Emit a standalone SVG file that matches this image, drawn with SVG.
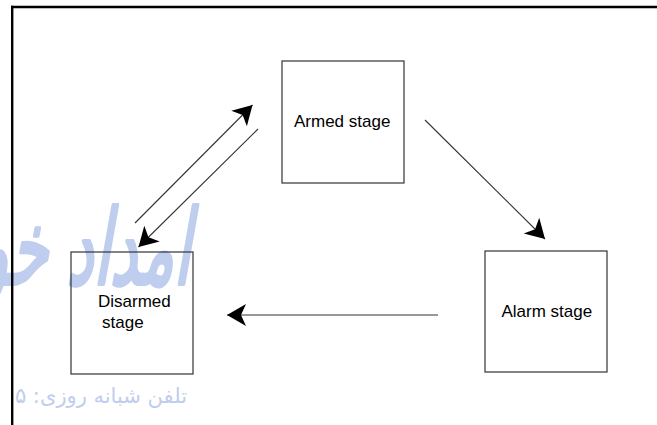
<svg xmlns="http://www.w3.org/2000/svg" width="657" height="425" viewBox="0 0 657 425">
<style>
.box{fill:none;stroke:#333;stroke-width:1.2}
.lbl{font-family:"Liberation Sans",Arial,sans-serif;font-size:17px;fill:#000}
.con{stroke:#333;stroke-width:1.1;fill:none;marker-end:url(#ah)}
.wm{font-family:"DejaVu Sans",sans-serif;fill:#bfcdee}
</style>
<defs>
<marker id="ah" markerUnits="userSpaceOnUse" viewBox="-20 -12 21 24" refX="0" refY="0" markerWidth="21" markerHeight="24" orient="auto">
<path d="M0,0 L-19,-11 L-14,0 L-19,11 Z" fill="#000"/>
</marker>
</defs>
<rect width="657" height="425" fill="#fff"/>
<g id="watermark">
<text class="wm" transform="translate(190,284) skewX(-10) scale(0.75,1.3)" x="0" y="0" font-size="80" stroke="#bfcdee" stroke-width="3" stroke-linejoin="round" text-anchor="end">امداد خو</text>
<text class="wm" x="187" y="403" font-size="21" direction="rtl" text-anchor="start">تلفن شبانه روزی: ۵</text>
</g>
<g id="frame">
<line x1="11" y1="7" x2="657" y2="7" stroke="#000" stroke-width="2.4"/>
<line x1="12.2" y1="5.8" x2="12.2" y2="425" stroke="#000" stroke-width="2.4"/>
</g>
<g id="armed">
<rect class="box" x="282" y="61" width="122" height="122"/>
<text class="lbl" x="294" y="127">Armed stage</text>
</g>
<g id="disarmed">
<rect class="box" x="71" y="252" width="122" height="122"/>
<text class="lbl" x="98" y="306.5">Disarmed</text>
<text class="lbl" x="102" y="327.5">stage</text>
</g>
<g id="alarm">
<rect class="box" x="485" y="251" width="122" height="121"/>
<text class="lbl" x="501.5" y="317">Alarm stage</text>
</g>
<g id="connectors">
<line class="con" x1="135" y1="223" x2="252.5" y2="105"/>
<line class="con" x1="258" y1="129" x2="138.5" y2="247"/>
<line class="con" x1="425" y1="120" x2="545" y2="239"/>
<line class="con" x1="438" y1="315" x2="227" y2="315"/>
</g>
</svg>
